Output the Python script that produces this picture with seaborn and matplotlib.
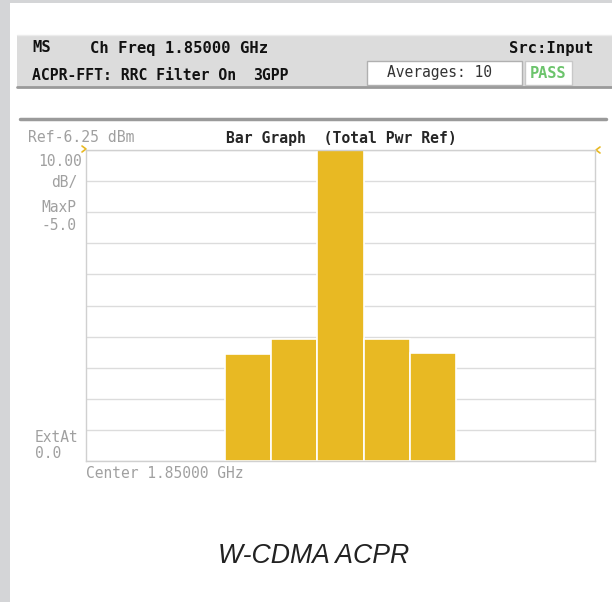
import matplotlib
matplotlib.use('Agg')
import matplotlib.pyplot as plt
import seaborn as sns
from matplotlib.patches import Rectangle

# Channel offsets (MHz) shown on screen, 11 slots around the carrier
slot_offsets = ['-25', '-20', '-15', '-10', '-5', '0', '5', '10', '15', '20', '25']
# Measured channels and their power relative to total power (dB)
bar_offsets = ['-10', '-5', '0', '5', '10']
acpr_db = [-65.5, -60.8, 0.0, -60.8, -65.2]

floor_db = -100   # bottom of screen, 10 dB/div
heights = [v - floor_db for v in acpr_db]

gold = '#E8B923'
grey_txt = '#a0a0a0'
mono = 'DejaVu Sans Mono'

sns.set_style('white')

fig = plt.figure(figsize=(6.12, 6.02), dpi=100)

# background layer in pixel coordinates for the instrument decorations
bg = fig.add_axes([0, 0, 1, 1], zorder=0)
bg.set_xlim(0, 612)
bg.set_ylim(602, 0)
bg.axis('off')

bg.add_patch(Rectangle((0, 0), 10, 602, color='#d4d5d7', lw=0))
bg.add_patch(Rectangle((0, 0), 612, 3, color='#d4d5d7', lw=0))

# header bar
hdr = dict(family=mono, weight='bold', fontsize=11.2, va='center', color='#111111')
hdr2 = dict(family=mono, weight='bold', fontsize=10.6, va='center', color='#111111')
bg.add_patch(Rectangle((17, 35), 595, 53, facecolor='#dcdcdc', edgecolor='none'))
bg.plot([17, 612], [87, 87], color='#9a9a9a', lw=2)
bg.plot([17, 612], [35, 35], color='#ececec', lw=1)
bg.text(32, 48, 'MS', **hdr)
bg.text(90, 48, 'Ch Freq 1.85000 GHz', **hdr)
bg.text(32, 75, 'ACPR-FFT: RRC Filter On', **hdr2)
bg.text(253, 75, '3GPP', **hdr2)
bg.text(593, 48, 'Src:Input', ha='right', **hdr)
bg.add_patch(Rectangle((367, 61), 155, 24, facecolor='white', edgecolor='#b0b0b0', lw=1))
bg.text(387, 73, 'Averages: 10', family=mono, fontsize=10.5, va='center', color='#333333')
bg.add_patch(Rectangle((525, 61), 47, 24, facecolor='white', edgecolor='#c8c8c8', lw=1))
bg.text(548, 73, 'PASS', family=mono, weight='bold', fontsize=11, va='center', ha='center', color='#6cc46c')

# panel top line
bg.plot([20, 606], [119, 119], color='#9a9a9a', lw=2.5)

# screen annotations
bg.text(28, 138, 'Ref-6.25 dBm', family=mono, fontsize=10.6, va='center', color=grey_txt)
bg.text(341, 138, 'Bar Graph  (Total Pwr Ref)', family=mono, weight='bold', fontsize=10.6,
        va='center', ha='center')
bg.text(82, 162, '10.00', family=mono, fontsize=10.5, va='center', ha='right', color=grey_txt)
bg.text(77, 182, 'dB/', family=mono, fontsize=10.5, va='center', ha='right', color=grey_txt)
bg.text(76, 207, 'MaxP', family=mono, fontsize=10.5, va='center', ha='right', color=grey_txt)
bg.text(76, 225, '-5.0', family=mono, fontsize=10.5, va='center', ha='right', color=grey_txt)
bg.text(35, 437, 'ExtAt', family=mono, fontsize=10.5, va='center', color=grey_txt)
bg.text(35, 454, '0.0', family=mono, fontsize=10.5, va='center', color=grey_txt)
bg.text(86, 474, 'Center 1.85000 GHz', family=mono, fontsize=10.5, va='center', color=grey_txt)
# reference level chevrons
bg.plot([82, 86, 82], [146, 149, 152], color=gold, lw=1.2)
bg.plot([600, 596, 600], [147, 150, 153], color=gold, lw=1.2)

bg.text(314, 556, 'W-CDMA ACPR', family=['Liberation Sans Narrow', 'Liberation Sans'],
        style='italic', fontsize=19.2, va='center', ha='center', color='#222222')

# bar graph
ax = fig.add_axes([86 / 612, 1 - 461 / 602, 509 / 612, 311 / 602], zorder=1)
ax.set_facecolor('white')
sns.barplot(x=bar_offsets, y=heights, order=slot_offsets, color=gold, saturation=1,
            width=1.0, edgecolor='white', linewidth=1.2, ax=ax)
ax.set_xlim(-0.5, len(slot_offsets) - 0.5)
ax.set_ylim(0, -floor_db)
ax.set_yticks(range(0, -floor_db + 1, 10))
ax.set_axisbelow(True)
ax.grid(axis='y', color='#dcdcdc', lw=1)
ax.tick_params(length=0, labelleft=False, labelbottom=False)
ax.set_xlabel('')
ax.set_ylabel('')
for s in ax.spines.values():
    s.set_color('#d0d0d0')
    s.set_linewidth(1)

fig.savefig('out.png', dpi=100)
